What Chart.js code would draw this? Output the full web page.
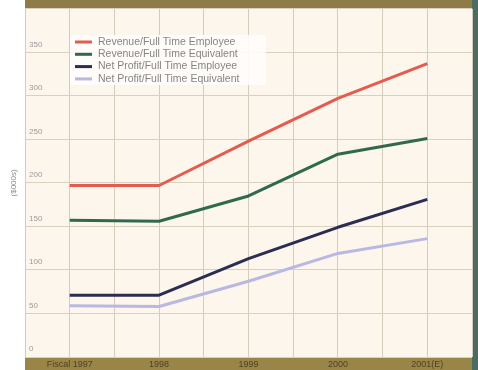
<!DOCTYPE html>
<html>
<head>
<meta charset="utf-8">
<script src="https://cdn.jsdelivr.net/npm/chart.js@4.4.1/dist/chart.umd.min.js"></script>
<style>
html,body{margin:0;padding:0;background:#fff;}
#wrap{width:478px;height:370px;}
</style>
</head>
<body>
<div id="wrap"><canvas id="c" width="478" height="370"></canvas></div>
<script>
const categories = ["Fiscal 1997", "1998", "1999", "2000", "2001(E)"];
const revenuePerEmployee = [197, 197, 248, 297, 337];
const revenuePerEquivalent = [157, 156, 185, 233, 251];
const profitPerEmployee = [71, 71, 113, 149, 181];
const profitPerEquivalent = [59, 58, 87, 119, 136];
const yTicks = [0, 50, 100, 150, 200, 250, 300, 350];
const seriesNames = [
  "Revenue/Full Time Employee",
  "Revenue/Full Time Equivalent",
  "Net Profit/Full Time Employee",
  "Net Profit/Full Time Equivalent"
];
const seriesColors = ["#e65b4f", "#2f6a4f", "#2c2d52", "#b9b8e2"];

function pts(arr){ return arr.map((v,i)=>({x:i, y:v})); }

const framePlugin = {
  id: 'frame',
  beforeDraw(chart){
    const ctx = chart.ctx, a = chart.chartArea;
    ctx.save();
    ctx.fillStyle = '#ffffff';
    ctx.fillRect(0,0,chart.width,chart.height);
    ctx.fillStyle = '#fdf6ed';
    ctx.fillRect(a.left, a.top, a.right-a.left, a.bottom-a.top);
    ctx.fillStyle = '#8e7b48';
    ctx.fillRect(a.left, 0, a.right-a.left, a.top);
    ctx.fillStyle = '#9a8549';
    ctx.fillRect(a.left, a.bottom, a.right-a.left, chart.height-a.bottom);
    ctx.fillStyle = '#4b6d61';
    ctx.fillRect(a.right, 0, chart.width-a.right, chart.height);
    ctx.restore();
  },
  beforeDatasetsDraw(chart){
    const ctx = chart.ctx;
    ctx.save();
    ctx.fillStyle = 'rgba(255,253,249,0.9)';
    ctx.fillRect(70, 35, 196, 50);
    ctx.font = '10.5px "Liberation Sans", Arial, sans-serif';
    ctx.textBaseline = 'middle';
    chart.data.datasets.forEach((ds, i) => {
      const y = 42 + i*12.3;
      ctx.strokeStyle = ds.borderColor;
      ctx.lineWidth = 3;
      ctx.beginPath();
      ctx.moveTo(75, y); ctx.lineTo(92, y);
      ctx.stroke();
      ctx.fillStyle = '#858585';
      ctx.fillText(ds.label, 98, y);
    });
    ctx.restore();
  }
};

new Chart(document.getElementById('c'), {
  type: 'line',
  data: {
    datasets: [
      {label: seriesNames[0], data: pts(revenuePerEmployee), borderColor: seriesColors[0]},
      {label: seriesNames[1], data: pts(revenuePerEquivalent), borderColor: seriesColors[1]},
      {label: seriesNames[2], data: pts(profitPerEmployee), borderColor: seriesColors[2]},
      {label: seriesNames[3], data: pts(profitPerEquivalent), borderColor: seriesColors[3]}
    ].map(d => Object.assign(d, {borderWidth: 3, pointRadius: 0, tension: 0, fill: false, borderJoinStyle: 'round', borderCapStyle: 'butt'}))
  },
  options: {
    responsive: false,
    animation: false,
    devicePixelRatio: 1,
    layout: {padding: {top: 7, right: 6, left: 0, bottom: 0}},
    plugins: {legend: {display: false}, tooltip: {enabled: false}},
    scales: {
      x: {
        type: 'linear',
        min: -0.5, max: 4.5,
        afterFit(s){ s.height = 13; },
        afterBuildTicks(s){
          const t = [];
          for (let v = -0.5; v <= 4.5001; v += 0.5) t.push({value: Math.round(v*10)/10});
          s.ticks = t;
        },
        ticks: {
          autoSkip: false, maxRotation: 0, padding: 2,
          color: '#4e4220',
          font: {family: '"Liberation Sans", Arial, sans-serif', size: 9},
          callback(v){ return Number.isInteger(v) && v >= 0 && v < categories.length ? categories[v] : ''; }
        },
        grid: {color: '#d6ccbb', lineWidth: 1, drawTicks: false},
        border: {display: false}
      },
      y: {
        min: 0, max: 400,
        afterFit(s){ s.width = 25; },
        afterBuildTicks(s){
          s.ticks = yTicks.concat([400]).map(v => ({value: v}));
        },
        ticks: {
          mirror: true, padding: 4, labelOffset: -8,
          color: '#9a9a9a',
          font: {family: '"Liberation Sans", Arial, sans-serif', size: 8},
          callback(v){ return yTicks.includes(v) ? String(v) : ''; }
        },
        title: {
          display: true, text: '($000s)', color: '#8a8a8a',
          font: {family: '"Liberation Sans", Arial, sans-serif', size: 8},
          padding: {top: 9, bottom: 0}
        },
        grid: {color: '#dad0bf', lineWidth: 1, drawTicks: false},
        border: {display: false}
      }
    }
  },
  plugins: [framePlugin]
});
</script>
</body>
</html>
